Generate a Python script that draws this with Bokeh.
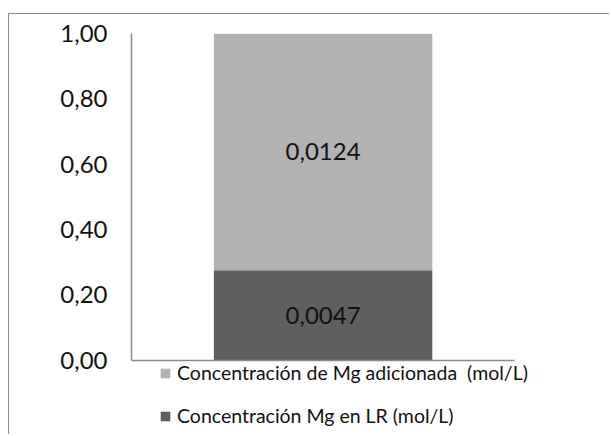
from bokeh.plotting import figure
from bokeh.models import (ColumnDataSource, FixedTicker, Legend, LegendItem,
                          LabelSet, Range1d)
from bokeh.core.properties import value
from bokeh.embed import file_html
from bokeh.resources import INLINE

# Magnesium concentrations (mol/L)
categories = ["Mg"]
mg_lr = [0.0047]
mg_added = [0.0124]
series_names = ["Concentración Mg en LR (mol/L)",
                "Concentración de Mg adicionada  (mol/L)"]
series_colors = ["#5f5f5f", "#b2b2b2"]
y_ticks = [0, 0.2, 0.4, 0.6, 0.8, 1.0]
y_tick_labels = ["0,00", "0,20", "0,40", "0,60", "0,80", "1,00"]

FONT = "Lato"
AXIS_GRAY = "#8a8a8a"
# extra room (in axis units) under the baseline for the legend,
# and to the right of the category axis so legend text is not cut
LEGEND_ROOM = 0.231
X_END = 1.25

# 100 % stacked shares
totals = [a + b for a, b in zip(mg_lr, mg_added)]
share_lr = [a / t for a, t in zip(mg_lr, totals)]
share_added = [b / t for b, t in zip(mg_added, totals)]
xpos = [i + 0.5 for i in range(len(categories))]

src = ColumnDataSource(dict(x=xpos, cat=categories,
                            lr=share_lr, added=share_added))

p = figure(width=601, height=421,
           x_range=Range1d(0, X_END), y_range=Range1d(-LEGEND_ROOM, 1),
           output_backend="svg", toolbar_location=None,
           min_border_left=122, min_border_right=0,
           min_border_top=19, min_border_bottom=0)
p.outline_line_color = None
p.background_fill_color = "white"
p.border_fill_color = "white"
p.xgrid.grid_line_color = None
p.ygrid.grid_line_color = None
# chart border (top and left edges visible within the page)
p.styles = {"margin-left": "8px", "margin-top": "13px",
            "border-left": "1.5px solid #8a8a8a",
            "border-top": "1.5px solid #8a8a8a"}

rs = p.vbar_stack(["lr", "added"], x="x", width=0.57, source=src,
                  color=series_colors, line_color=None)

# value labels centred in each segment
fmt = lambda v: f"{v:.4f}".replace(".", ",")
lab_src = ColumnDataSource(dict(
    x=xpos * 2,
    y=[s / 2 for s in share_lr] + [l + s / 2 for l, s in zip(share_lr, share_added)],
    txt=[fmt(v) for v in mg_lr] + [fmt(v) for v in mg_added],
))
p.add_layout(LabelSet(x="x", y="y", text="txt", source=lab_src,
                      text_align="center", text_baseline="middle",
                      text_font=value(FONT), text_font_size="24px",
                      text_color="#111111"))

# value axis, drawn only over 0..1
ya = p.yaxis[0]
ya.bounds = (0, 1)
ya.ticker = FixedTicker(ticks=y_ticks)
ya.major_label_overrides = {t: s for t, s in zip(y_ticks, y_tick_labels)}
ya.major_label_text_font = FONT
ya.major_label_text_font_size = "24px"
ya.major_label_text_color = "#111111"
ya.major_label_standoff = 18
ya.major_tick_line_color = None
ya.minor_tick_line_color = None
ya.axis_line_color = AXIS_GRAY
ya.axis_line_width = 1.5

# category axis: a bare baseline at zero spanning the category slots
xa = p.xaxis[0]
xa.fixed_location = 0
xa.bounds = (0, len(categories))
xa.ticker = FixedTicker(ticks=[])
xa.major_label_standoff = 0
xa.major_tick_line_color = None
xa.minor_tick_line_color = None
xa.axis_line_color = AXIS_GRAY
xa.axis_line_width = 1.5

# legend under the baseline
legend = Legend(items=[LegendItem(label=series_names[1], renderers=[rs[1]]),
                       LegendItem(label=series_names[0], renderers=[rs[0]])],
                location=(28, 8), orientation="vertical",
                glyph_width=12, glyph_height=12, label_standoff=6,
                label_text_font=FONT, label_text_font_size="19.5px",
                label_text_color="#111111", label_height=22,
                spacing=20, padding=0, margin=0,
                border_line_color=None, background_fill_alpha=0)
p.add_layout(legend)

open("out.html", "w").write(file_html(p, INLINE))
